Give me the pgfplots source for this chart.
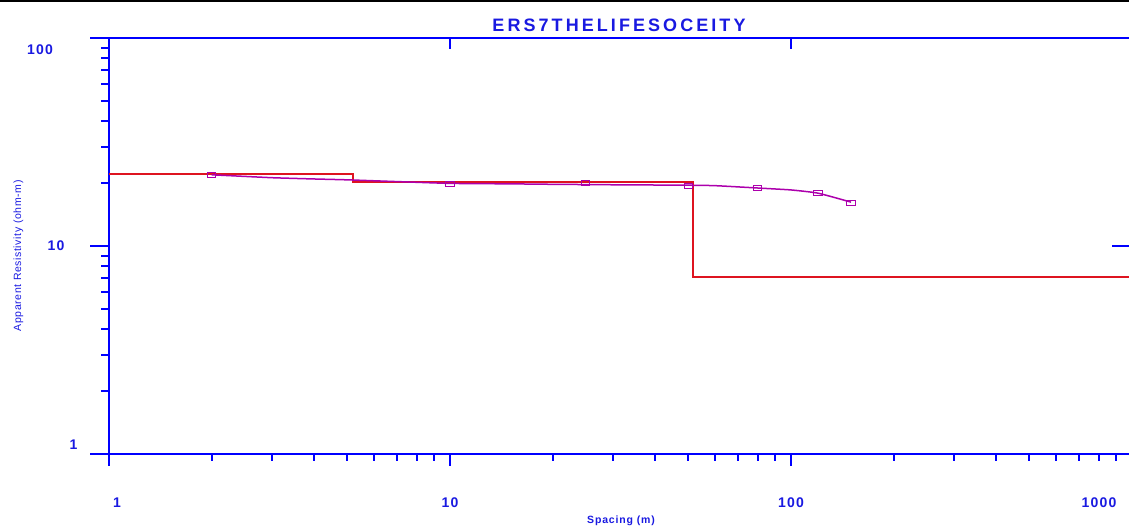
\documentclass[border=0pt]{standalone}
\usepackage{pgfplots}
\pgfplotsset{compat=1.18}
\usepackage{fontspec}
\setmainfont{Liberation Sans}
\newfontfamily\titlefont[LetterSpace=17]{Liberation Sans}
\newfontfamily\tickfont[LetterSpace=9]{Liberation Sans}
\newfontfamily\labfont[LetterSpace=8]{Liberation Sans}
\newfontfamily\ylabfont[LetterSpace=6]{Liberation Sans}
\definecolor{axisblue}{RGB}{0,0,255}
\definecolor{textblue}{RGB}{25,25,225}
\definecolor{modelred}{RGB}{222,20,32}
\definecolor{curvepurple}{RGB}{172,0,172}
\begin{document}
\begin{tikzpicture}[x=1pt,y=1pt]
\useasboundingbox (0,0) rectangle (1129,525);
\clip (0,0) rectangle (1129,525);
\fill[black] (0,522.6) rectangle (1129,525);
\begin{axis}[
  at={(109pt,71pt)}, anchor=south west,
  scale only axis, width=1023pt, height=416pt,
  xmode=log, ymode=log,
  xmin=1, xmax=1000, ymin=1, ymax=100,
  axis line style={draw=axisblue, line width=2pt},
  xtick=\empty, xticklabels={},
  ytick={1,10,100}, yticklabels={},
  minor ytick={2,3,4,5,6,7,8,9,20,30,40,50,60,70,80,90},
  ytick pos=left, tick align=outside,
  major tick length=19pt, minor tick length=8pt,
  tick style={draw=axisblue, line width=2pt},
  minor tick style={draw=axisblue, line width=2pt},
]
\addplot[modelred, line width=2pt, sharp plot] coordinates {
  (1,22.2) (5.21,22.2) (5.21,20.4) (51.7,20.4) (51.7,7.12) (1000,7.12)
};
\addplot[curvepurple, line width=1.5pt, smooth, tension=0.3] coordinates {
  (2,22.0) (3,21.3) (4,21.0) (5,20.8) (7,20.4) (10,20.0) (15,19.9)
  (20,19.8) (30,19.7) (50,19.6) (60,19.5) (80,19.0) (100,18.6)
  (120,17.95) (150,16.25)
};
\addplot[only marks, mark=square, mark size=2.7pt,
  mark options={xscale=1.5, yscale=0.9, draw=curvepurple, fill=white, line width=1pt}]
  coordinates {
  (2,21.95) (10,19.87) (25,20.0) (50,19.5) (80,18.94) (120,17.92) (150,16.15)
};
\end{axis}
% x ticks (bottom)
\foreach \v in {2,3,4,5,6,7,8,9,20,30,40,50,60,70,80,90,200,300,400,500,600,700,800,900}
  \draw[axisblue, line width=2pt] ({109+341*log10(\v)},71) -- ++(0,-6.5);
\foreach \v in {1,10,100}
  \draw[axisblue, line width=2pt] ({109+341*log10(\v)},71) -- ++(0,-12);
% top ticks
\foreach \v in {10,100}
  \draw[axisblue, line width=2pt] ({109+341*log10(\v)},487) -- ++(0,-11);
% right tick
\draw[axisblue, line width=2pt] (1132,279) -- (1112,279);
% tick labels
\begin{scope}[every node/.style={text=textblue, inner sep=0pt, font=\tickfont\fontsize{14}{14}\selectfont\bfseries}]
\node at (117,22) {1};
\node at (450,22) {10};
\node at (791,22) {100};
\node at (1099,22) {1000};
\node at (40,475) {100};
\node at (56,279) {10};
\node at (73.5,80) {1};
\end{scope}
% title
\node[anchor=base, inner sep=0pt, text=textblue, font=\titlefont\fontsize{18}{18}\selectfont\bfseries] at (619,493.3) {ERS7THELIFESOCEITY};
% axis labels
\node[anchor=base, inner sep=0pt, text=textblue, font=\labfont\fontsize{10.5}{10.5}\selectfont\bfseries] at (621,2) {Spacing (m)};
\node[anchor=base, rotate=90, inner sep=0pt, text=textblue, font=\ylabfont\fontsize{10.5}{10.5}\selectfont] at (21,269) {Apparent Resistivity (ohm-m)};
\end{tikzpicture}
\end{document}
